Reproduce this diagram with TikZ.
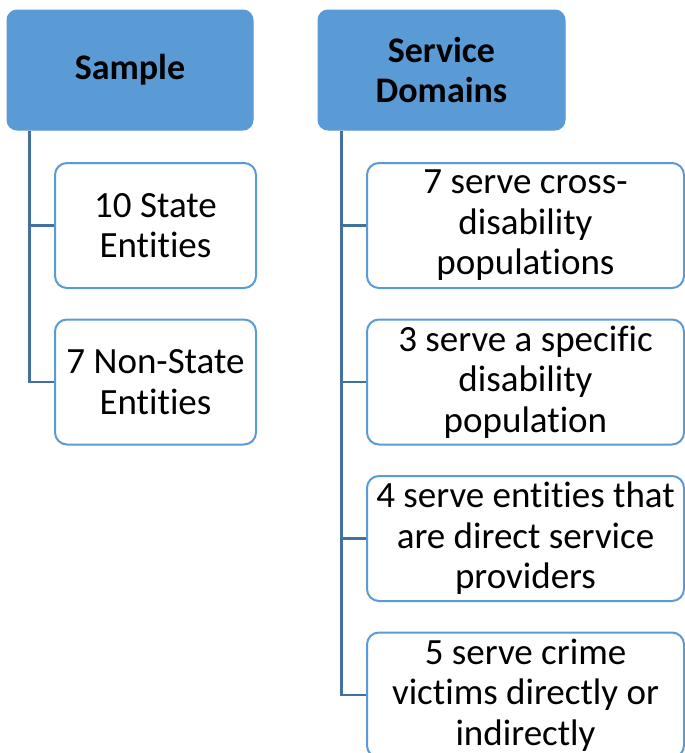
\documentclass[tikz,border=0pt]{standalone}
\usepackage{fontspec}
\setmainfont{Carlito}[Ligatures={NoCommon,NoRequired,NoContextual}]
\usetikzlibrary{positioning}
\definecolor{hdrblue}{HTML}{5B9BD5}
\definecolor{linkblue}{HTML}{41719C}

\begin{document}
\begin{tikzpicture}[x=1pt,y=-1pt,node distance=156.5pt,on grid,
		head/.style={rectangle,rounded corners=10pt,fill=hdrblue,draw=hdrblue,line width=1pt,
			minimum width=246pt,minimum height=120pt,align=center,inner sep=0pt,
			font=\fontsize{36}{40.5}\selectfont\bfseries},
		leaf/.style={rectangle,rounded corners=12pt,fill=white,draw=hdrblue,line width=2pt,
			minimum height=125pt,align=center,inner sep=0pt,
			font=\fontsize{37}{40.5}\selectfont},
		link/.style={draw=linkblue,line width=2.5pt}]
		\path[use as bounding box,clip] (0,0) rectangle (685,753);
		
		\node[head]  (sample)  at (130,70)    {Sample};
		\node[head,minimum width=247pt] (domains) at (441.5,70) {Service\\Domains};
		
		\node[leaf,minimum width=201pt] (s1) at (155.5,225.5) {10 State\\Entities};
		\node[leaf,minimum width=201pt] (s2) [below=of s1]    {7 Non-State\\Entities};
		
		\node[leaf,minimum width=317pt] (d1) at (525.5,225.5) {7 serve cross-\\disability\\populations};
		\node[leaf,minimum width=317pt] (d2) [below=of d1]    {3 serve a specific\\disability\\population};
		\node[leaf,minimum width=317pt] (d3) [below=of d2]    {4 serve entities that\\are direct service\\providers};
		\node[leaf,minimum width=317pt] (d4) [below=of d3]    {5 serve crime\\victims directly or\\indirectly};
		
		\coordinate (sline) at ([xshift=23pt]sample.south west);
		\coordinate (dline) at ([xshift=24pt]domains.south west);
		
		\draw[link] (sline) |- (s2.west);
		\draw[link] (sline |- s1.west) -- (s1.west);
		\draw[link] (dline) |- (d4.west);
		\foreach \n in {d1,d2,d3}
			\draw[link] (dline |- \n.west) -- (\n.west);
\end{tikzpicture}
\end{document}
